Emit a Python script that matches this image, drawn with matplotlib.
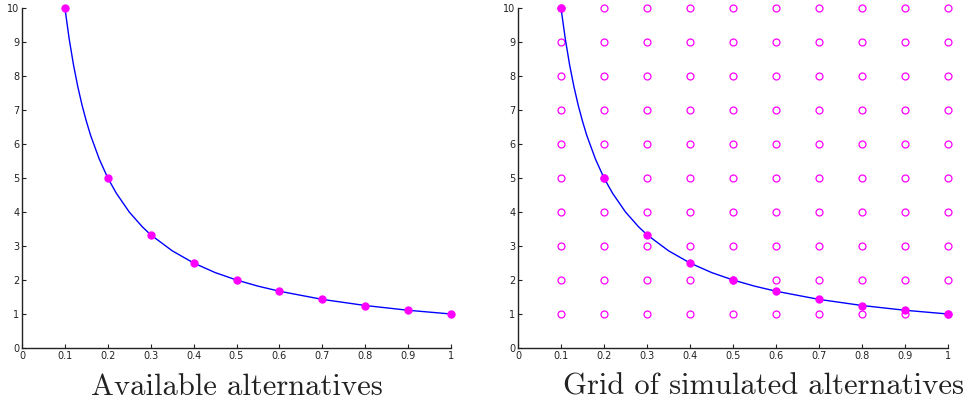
import matplotlib
matplotlib.use('Agg')
import numpy as np
import matplotlib.pyplot as plt

# available alternatives (filled points)
alt_x = [0.1, 0.2, 0.3, 0.4, 0.5, 0.6, 0.7, 0.8, 0.9, 1.0]
alt_y = [10, 5, 3.33, 2.5, 2, 1.67, 1.43, 1.25, 1.11, 1]

# frontier curve
curve_x = [0.1, 0.11, 0.12, 0.13, 0.14, 0.15, 0.16, 0.18, 0.2, 0.22, 0.25, 0.28,
           0.3, 0.35, 0.4, 0.45, 0.5, 0.55, 0.6, 0.7, 0.8, 0.9, 1.0]
curve_y = [10, 9.09, 8.33, 7.69, 7.14, 6.67, 6.25, 5.56, 5, 4.55, 4, 3.57,
           3.33, 2.86, 2.5, 2.22, 2, 1.82, 1.67, 1.43, 1.25, 1.11, 1]

# simulated grid
grid_x = [0.1, 0.2, 0.3, 0.4, 0.5, 0.6, 0.7, 0.8, 0.9, 1.0]
grid_y = [1, 2, 3, 4, 5, 6, 7, 8, 9, 10]

xticks = [0, 0.1, 0.2, 0.3, 0.4, 0.5, 0.6, 0.7, 0.8, 0.9, 1]
xticklabels = ['0', '0.1', '0.2', '0.3', '0.4', '0.5', '0.6', '0.7', '0.8', '0.9', '1']
yticks = [0, 1, 2, 3, 4, 5, 6, 7, 8, 9, 10]
titles = ['Available alternatives', 'Grid of simulated alternatives']

magenta = '#ff00ff'
blue = '#0000ff'

fig = plt.figure(figsize=(9.72, 4.08), dpi=100)
ax1 = fig.add_axes([22 / 972, 1 - 348 / 408, (451 - 22) / 972, 340 / 408])
ax2 = fig.add_axes([518 / 972, 1 - 348 / 408, (948 - 518) / 972, 340 / 408])

gx, gy = np.meshgrid(grid_x, grid_y)
ax2.plot(gx.ravel(), gy.ravel(), 'o', ls='none', mfc='none', mec=magenta,
         ms=5, mew=0.9, clip_on=False, zorder=2)

for ax, title in zip([ax1, ax2], titles):
    ax.plot(curve_x, curve_y, color=blue, lw=1.0, zorder=3)
    ax.plot(alt_x, alt_y, 'o', ls='none', color=magenta, ms=5, clip_on=False, zorder=4)
    ax.set_xlim(0, 1)
    ax.set_ylim(0, 10)
    ax.set_xticks(xticks)
    ax.set_xticklabels(xticklabels)
    ax.set_yticks(yticks)
    ax.tick_params(direction='in', length=3, width=0.8, labelsize=7,
                   colors='#222222', pad=2)
    ax.spines['top'].set_visible(False)
    ax.spines['right'].set_visible(False)
    for s in ['left', 'bottom']:
        ax.spines[s].set_linewidth(1.0)
        ax.spines[s].set_color('#222222')
    ax.set_xlabel(title, fontfamily='cmr10', fontsize=22, color='#222222', labelpad=9)

# the right caption sits a bit right of the axes centre
ax2.xaxis.set_label_coords(0.572, -0.074)
ax1.xaxis.set_label_coords(0.5, -0.074)
for ax in [ax1, ax2]:
    ax.xaxis.label.set_va('top')

fig.savefig('out.png', dpi=100)
